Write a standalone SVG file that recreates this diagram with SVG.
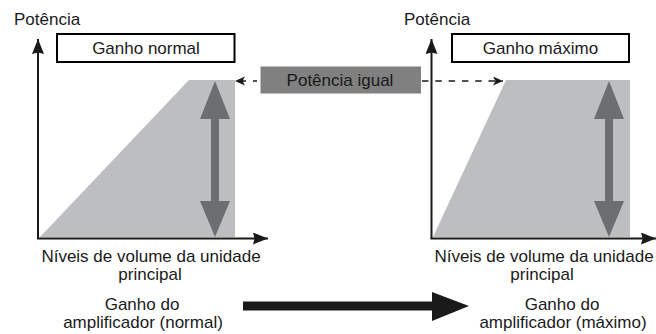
<svg xmlns="http://www.w3.org/2000/svg" width="656" height="334" viewBox="0 0 656 334">
<style>
text{font-family:"Liberation Sans",Arial,sans-serif;font-size:17px;fill:#1a1a1a}
.c{text-anchor:middle}
.axis{stroke:#1a1a1a;stroke-width:2;fill:none}
.area{fill:#bdbec0}
.dbl{fill:#6d6e71}
.box{fill:#fff;stroke:#000;stroke-width:2}
.gbox{fill:#808080}
.dash{stroke:#1a1a1a;stroke-width:1.5;fill:none}
</style>
<defs>
<marker id="ah" markerUnits="userSpaceOnUse" markerWidth="16" markerHeight="13" refX="15" refY="6" orient="auto">
<path d="M0,0 L15,6 L0,12 L1.5,6 z" fill="#1a1a1a"/>
</marker>
<marker id="dh" markerUnits="userSpaceOnUse" markerWidth="11" markerHeight="10" refX="10" refY="4.5" orient="auto">
<path d="M0,0 L10,4.5 L0,9 L2.5,4.5 z" fill="#1a1a1a"/>
</marker>
</defs>

<g id="chart-left">
<polygon class="area" points="40,237 189,80 235,80 235,237"/>
<polygon class="dbl" points="215,81 230,119 219,119 219,201 230,201 215,237 200,201 211,201 211,119 200,119"/>
<line class="axis" x1="38" y1="239" x2="38" y2="39" marker-end="url(#ah)"/>
<line class="axis" x1="37" y1="238.5" x2="268" y2="238.5" marker-end="url(#ah)"/>
</g>
<g id="chart-right">
<polygon class="area" points="433,237 506,80 630,80 630,237"/>
<polygon class="dbl" points="609,81 624,119 613,119 613,201 624,201 609,237 594,201 605,201 605,119 594,119"/>
<line class="axis" x1="431.5" y1="239" x2="431.5" y2="39" marker-end="url(#ah)"/>
<line class="axis" x1="430.5" y1="238.5" x2="656" y2="238.5" marker-end="url(#ah)"/>
</g>

<g id="label-potencia-left"><text x="14" y="25">Potência</text></g>
<g id="label-potencia-right"><text x="404" y="25">Potência</text></g>

<g id="box-normal">
<rect class="box" x="57" y="34" width="177.5" height="28"/>
<text class="c" x="146" y="54">Ganho normal</text>
</g>
<g id="box-maximo">
<rect class="box" x="452" y="34" width="177" height="28"/>
<text class="c" x="540.5" y="54">Ganho máximo</text>
</g>

<g id="box-igual">
<rect class="gbox" x="260.5" y="66.5" width="160.5" height="27"/>
<text class="c" x="340" y="85.5">Potência igual</text>
</g>

<g id="label-volume-left">
<text class="c" x="151" y="262">Níveis de volume da unidade</text>
<text class="c" x="150" y="280">principal</text>
</g>
<g id="label-volume-right">
<text class="c" x="544" y="262">Níveis de volume da unidade</text>
<text class="c" x="542" y="280">principal</text>
</g>

<g id="label-gain-normal">
<text class="c" x="142" y="310">Ganho do</text>
<text class="c" x="143" y="328">amplificador (normal)</text>
</g>
<g id="label-gain-max">
<text class="c" x="562" y="310">Ganho do</text>
<text class="c" x="563" y="328">amplificador (máximo)</text>
</g>

<g id="connectors">
<path class="dash" d="M257,81 L235,81" stroke-dasharray="4,7" marker-end="url(#dh)"/>
<path class="dash" d="M422,81 L503,81" stroke-dasharray="6.5,6.8" marker-end="url(#dh)"/>
<polygon fill="#1a1a1a" points="243,301.5 432,301.5 432,292 469,306 432,321 432,310.5 243,310.5"/>
</g>
</svg>
